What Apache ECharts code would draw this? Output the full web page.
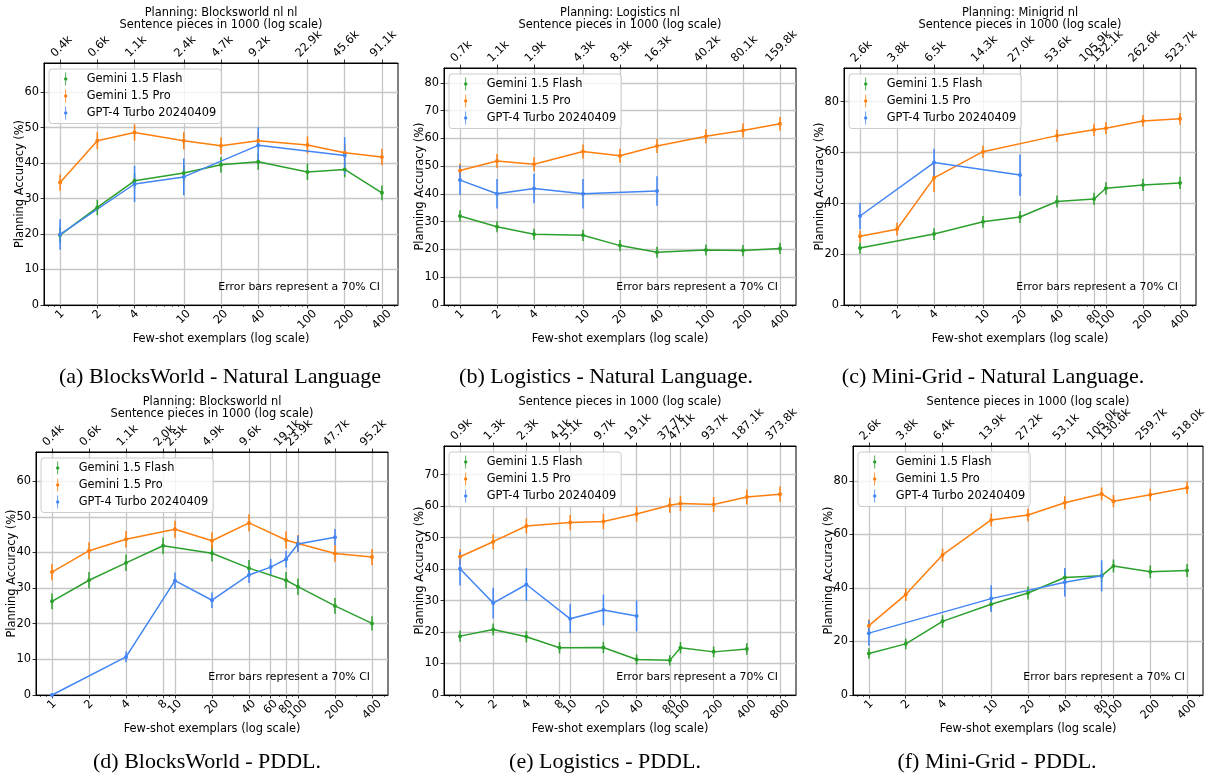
<!DOCTYPE html>
<html><head><meta charset="utf-8">
<script src="https://cdn.jsdelivr.net/npm/echarts@6.0.0/dist/echarts.min.js"></script>
<style>html,body{margin:0;padding:0;background:#fff}#c{width:1208px;height:778px}</style>
</head><body><div id="c"></div>
<script>
// ---------------- data ----------------
const seriesNames = ['Gemini 1.5 Flash', 'Gemini 1.5 Pro', 'GPT-4 Turbo 20240409'];

// (a) BlocksWorld - NL
const shotsA = [1, 2, 4, 10, 20, 40, 100, 200, 400];
const tokShotsA = [1, 2, 4, 10, 20, 40, 100, 200, 400];
const tokensA = ['0.4k', '0.6k', '1.1k', '2.4k', '4.7k', '9.2k', '22.9k', '45.6k', '91.1k'];
const flashA = [19.7, 27.5, 35.0, 37.2, 39.5, 40.4, 37.5, 38.2, 31.6];
const flashErrA = [2.2, 2.2, 2.2, 2.2, 2.2, 2.3, 2.3, 2.2, 2.1];
const proA = [34.5, 46.3, 48.6, 46.3, 44.9, 46.3, 45.1, 42.9, 41.7];
const proErrA = [2.3, 2.4, 2.3, 2.4, 2.4, 2.3, 2.4, 2.4, 2.3];
const gptA = [19.9, null, 34.1, 36.1, null, 45.0, null, 42.1, null];
const gptErrA = [4.3, null, 5.1, 5.2, null, 5.1, null, 5.2, null];

// (b) Logistics - NL
const shotsB = [1, 2, 4, 10, 20, 40, 100, 200, 400];
const tokShotsB = [1, 2, 4, 10, 20, 40, 100, 200, 400];
const tokensB = ['0.7k', '1.1k', '1.9k', '4.3k', '8.3k', '16.3k', '40.2k', '80.1k', '159.8k'];
const flashB = [32.1, 28.2, 25.5, 25.1, 21.4, 19.0, 19.8, 19.6, 20.4];
const flashErrB = [2.0, 2.0, 2.0, 2.0, 2.0, 2.0, 2.0, 2.0, 2.0];
const proB = [48.5, 51.9, 50.7, 55.3, 53.8, 57.3, 60.8, 62.9, 65.3];
const proErrB = [2.5, 2.5, 2.5, 2.5, 2.5, 2.5, 2.5, 2.5, 2.4];
const gptB = [45.0, 40.1, 42.0, 40.1, null, 41.1, null, null, null];
const gptErrB = [5.4, 5.3, 5.3, 5.3, null, 5.3, null, null, null];

// (c) Mini-Grid - NL
const shotsC = [1, 2, 4, 10, 20, 40, 80, 100, 200, 400];
const tokShotsC = [1, 2, 4, 10, 20, 40, 80, 100, 200, 400];
const tokensC = ['2.6k', '3.8k', '6.5k', '14.3k', '27.0k', '53.6k', '105.9k', '132.1k', '262.6k', '523.7k'];
const flashC = [22.4, null, 27.9, 32.7, 34.6, 40.7, 41.7, 45.9, 47.2, 48.0];
const flashErrC = [2.2, null, 2.3, 2.3, 2.4, 2.4, 2.4, 2.4, 2.4, 2.4];
const proC = [27.0, 29.8, 50.0, 60.3, null, 66.6, 68.9, 69.5, 72.4, 73.2];
const proErrC = [2.3, 2.5, 5.6, 2.4, null, 2.4, 2.4, 2.4, 2.3, 2.3];
const gptC = [35.0, null, 56.0, null, 51.1, null, null, null, null, null];
const gptErrC = [5.2, null, 5.4, null, 8.1, null, null, null, null, null];

// (d) BlocksWorld - PDDL
const shotsD = [1, 2, 4, 8, 10, 20, 40, 60, 80, 100, 200, 400];
const tokShotsD = [1, 2, 4, 8, 10, 20, 40, 80, 100, 200, 400];
const tokensD = ['0.4k', '0.6k', '1.1k', '2.0k', '2.5k', '4.9k', '9.6k', '19.1k', '23.9k', '47.7k', '95.2k'];
const flashD = [26.3, 32.2, 37.1, 41.9, null, 39.8, 35.6, null, 32.2, 30.4, 25.0, 20.1];
const flashErrD = [2.2, 2.3, 2.3, 2.3, null, 2.3, 2.3, null, 2.3, 2.3, 2.2, 2.0];
const proD = [34.5, 40.5, 43.7, null, 46.5, 43.3, 48.3, null, 43.5, 42.5, 39.7, 38.7];
const proErrD = [2.3, 2.4, 2.3, null, 2.4, 2.4, 2.4, null, 2.4, 2.4, 2.3, 2.3];
const gptD = [0, null, 10.7, null, 32.1, 26.6, 33.7, 35.9, 38.1, 42.4, 44.3, null];
const gptErrD = [0, null, 1.5, null, 2.3, 2.2, 2.3, 2.3, 2.3, 2.3, 2.3, null];

// (e) Logistics - PDDL
const shotsE = [1, 2, 4, 8, 10, 20, 40, 80, 100, 200, 400, 800];
const tokShotsE = [1, 2, 4, 8, 10, 20, 40, 80, 100, 200, 400, 800];
const tokensE = ['0.9k', '1.3k', '2.3k', '4.1k', '5.1k', '9.7k', '19.1k', '37.7k', '47.1k', '93.7k', '187.1k', '373.8k'];
const flashE = [18.7, 20.8, 18.5, 15.0, null, 15.1, 11.3, 11.0, 15.0, 13.7, 14.6, null];
const flashErrE = [1.8, 1.9, 1.8, 1.8, null, 1.8, 1.6, 1.6, 1.8, 1.7, 1.8, null];
const proE = [43.9, 48.7, 53.7, null, 54.8, 55.1, 57.5, 60.3, 60.8, 60.5, 62.9, 63.8];
const proErrE = [2.4, 2.4, 2.4, null, 2.4, 2.4, 2.4, 2.4, 2.4, 2.4, 2.4, 2.4];
const gptE = [40.1, 29.2, 35.1, null, 24.2, 27.0, 25.1, null, null, null, null, null];
const gptErrE = [5.3, 4.9, 5.2, null, 4.6, 4.9, 4.9, null, null, null, null, null];

// (f) Mini-Grid - PDDL
const shotsF = [1, 2, 4, 10, 20, 40, 80, 100, 200, 400];
const tokShotsF = [1, 2, 4, 10, 20, 40, 80, 100, 200, 400];
const tokensF = ['2.6k', '3.8k', '6.4k', '13.9k', '27.2k', '53.1k', '105.0k', '130.6k', '259.7k', '518.0k'];
const flashF = [15.5, 19.1, 27.5, 33.9, 38.1, 43.9, 44.5, 48.2, 46.0, 46.5];
const flashErrF = [2.0, 2.0, 2.3, 2.4, 2.4, 2.4, 2.4, 2.4, 2.4, 2.4];
const proF = [25.9, 37.5, 52.3, 65.4, 67.2, 71.8, 75.1, 72.4, 74.8, 77.4];
const proErrF = [2.3, 2.4, 2.4, 2.4, 2.4, 2.4, 2.4, 2.3, 2.3, 2.3];
const gptF = [23.1, null, null, 36.0, null, 42.1, 44.5, null, null, null];
const gptErrF = [4.7, null, null, 5.0, null, 5.3, 5.8, null, null, null];

const planTitles = ['Planning: Blocksworld nl nl', 'Planning: Logistics nl', 'Planning: Minigrid nl', 'Planning: Blocksworld nl', '', ''];
const subTitle = 'Sentence pieces in 1000 (log scale)';
const captions = ['(a) BlocksWorld - Natural Language', '(b) Logistics - Natural Language.', '(c) Mini-Grid - Natural Language.',
                  '(d) BlocksWorld - PDDL.', '(e) Logistics - PDDL.', '(f) Mini-Grid - PDDL.'];
const ciNote = 'Error bars represent a 70% CI';
const yName = 'Planning Accuracy (%)';
const xName = 'Few-shot exemplars (log scale)';

const panelData = [
  { shots: shotsA, tokShots: tokShotsA, tokens: tokensA, vals: [flashA, proA, gptA], errs: [flashErrA, proErrA, gptErrA] },
  { shots: shotsB, tokShots: tokShotsB, tokens: tokensB, vals: [flashB, proB, gptB], errs: [flashErrB, proErrB, gptErrB] },
  { shots: shotsC, tokShots: tokShotsC, tokens: tokensC, vals: [flashC, proC, gptC], errs: [flashErrC, proErrC, gptErrC] },
  { shots: shotsD, tokShots: tokShotsD, tokens: tokensD, vals: [flashD, proD, gptD], errs: [flashErrD, proErrD, gptErrD] },
  { shots: shotsE, tokShots: tokShotsE, tokens: tokensE, vals: [flashE, proE, gptE], errs: [flashErrE, proErrE, gptErrE] },
  { shots: shotsF, tokShots: tokShotsF, tokens: tokensF, vals: [flashF, proF, gptF], errs: [flashErrF, proErrF, gptErrF] }
];

// ---------------- layout / style ----------------
const panelLayout = [
  { left: 44,  top: 63,  width: 354, height: 242, yMax: 68.2, yStep: 10, titleY: 13.3, subY: 25,    capX: 220, capY: 377 },
  { left: 444, top: 68,  width: 352, height: 237, yMax: 85.4, yStep: 10, titleY: 13.3, subY: 25,    capX: 606, capY: 377 },
  { left: 844, top: 68,  width: 352, height: 237, yMax: 93.2, yStep: 20, titleY: 13.3, subY: 25,    capX: 993, capY: 377 },
  { left: 36,  top: 452, width: 352, height: 243, yMax: 68.2, yStep: 10, titleY: 402.3, subY: 414, capX: 207, capY: 762 },
  { left: 444, top: 446, width: 352, height: 249, yMax: 79.1, yStep: 10, titleY: 0,    subY: 402.3, capX: 605, capY: 762 },
  { left: 853, top: 446, width: 350, height: 249, yMax: 93.0, yStep: 20, titleY: 0,    subY: 402.3, capX: 997, capY: 762 }
];
const colors = ['#2ca02c', '#ff7f0e', '#4285f4'];
const FONT = '"DejaVu Sans", sans-serif';
const FS = 11.4;
const GRIDC = '#c6c6c6';
const ICON = 'path://M1.6,0 L2.4,0 L2.4,13 L1.6,13 Z M0.3,6.5 A1.7,1.7 0 1 1 3.7,6.5 A1.7,1.7 0 1 1 0.3,6.5 Z';

const ctx = document.createElement('canvas').getContext('2d');
ctx.font = FS + 'px "DejaVu Sans"';

function richFor(labels, prefix) {
  const rich = {};
  labels.forEach((s, k) => {
    const p = 0.5 * ctx.measureText(s).width;
    rich[prefix + k] = { fontSize: FS, fontFamily: FONT, color: '#000', padding: [p, p, 0, 0] };
  });
  return rich;
}
function fmtFor(vals, labels, prefix) {
  return function (v) {
    const k = vals.findIndex(t => Math.abs(t - v) < 1e-6);
    return k < 0 ? '' : '{' + prefix + k + '|' + labels[k] + '}';
  };
}

const grid = [], xAxis = [], yAxis = [], series = [], legend = [], graphic = [];

panelData.forEach((P, i) => {
  const L = panelLayout[i];
  grid.push({ left: L.left, top: L.top, width: L.width, height: L.height, show: true,
    borderColor: '#000', borderWidth: 1, backgroundColor: 'transparent', containLabel: false, outerBoundsMode: 'none' });

  const lastLog = Math.log10(P.shots[P.shots.length - 1]);
  const pad = 0.05 * lastLog;
  const xmin = -pad, xmax = lastLog + pad;
  const majors = P.shots.map(s => Math.log10(s));
  const topVals = P.tokShots.map(s => Math.log10(s));
  const minors = [];
  for (let e = -1; e <= 3; e++) for (let m = 2; m <= 9; m++) {
    const v = m * Math.pow(10, e), lv = Math.log10(v);
    if (lv >= xmin && lv <= xmax && P.shots.indexOf(Math.round(v * 1000) / 1000) < 0) minors.push(lv);
  }
  const bottomLabels = P.shots.map(String);

  xAxis.push({ type: 'value', gridIndex: i, position: 'bottom', min: xmin, max: xmax,
    axisLine: { show: true, onZero: false, lineStyle: { color: '#000', width: 1 } },
    axisTick: { show: true, length: 3.5, customValues: majors, lineStyle: { color: '#000', width: 0.8 } },
    axisLabel: { show: true, rotate: 45, align: 'center', verticalAlign: 'middle', margin: 7,
      customValues: majors, formatter: fmtFor(majors, bottomLabels, 'b'), rich: richFor(bottomLabels, 'b'),
      fontSize: FS, fontFamily: FONT, color: '#000' },
    splitLine: { show: true, lineStyle: { color: GRIDC, width: 1.3 } },
    name: xName, nameLocation: 'middle', nameGap: 28.5, nameMoveOverlap: false,
    nameTextStyle: { fontSize: FS, fontFamily: FONT, color: '#000' } });

  xAxis.push({ type: 'value', gridIndex: i, position: 'top', min: xmin, max: xmax,
    axisLine: { show: true, onZero: false, lineStyle: { color: '#000', width: 1 } },
    axisTick: { show: true, length: 3.5, customValues: topVals, lineStyle: { color: '#000', width: 0.8 } },
    axisLabel: { show: false }, splitLine: { show: false } });

  xAxis.push({ type: 'value', gridIndex: i, position: 'bottom', min: xmin, max: xmax,
    axisLine: { show: false },
    axisTick: { show: true, length: 2, customValues: minors, lineStyle: { color: '#000', width: 0.6 } },
    axisLabel: { show: false }, splitLine: { show: false } });

  const yTicks = [];
  for (let v = 0; v <= L.yMax + 1e-9; v += L.yStep) yTicks.push(v);
  yAxis.push({ type: 'value', gridIndex: i, min: 0, max: L.yMax,
    axisLine: { show: true, onZero: false, lineStyle: { color: '#000', width: 1 } },
    axisTick: { show: true, length: 3.5, customValues: yTicks, lineStyle: { color: '#000', width: 0.8 } },
    axisLabel: { customValues: yTicks, fontSize: FS, fontFamily: FONT, color: '#000', margin: 5 },
    splitLine: { show: true, lineStyle: { color: GRIDC, width: 1.3 } },
    name: yName, nameLocation: 'middle', nameGap: 18.5, nameRotate: 90, nameMoveOverlap: false,
    nameTextStyle: { fontSize: FS, fontFamily: FONT, color: '#000' } });

  P.vals.forEach((vals, s) => {
    const pts = [], errPts = [];
    P.shots.forEach((sh, k) => {
      if (vals[k] == null) return;
      pts.push([Math.log10(sh), vals[k]]);
      errPts.push([Math.log10(sh), vals[k], P.errs[s][k]]);
    });
    series.push({ type: 'line', name: seriesNames[s], xAxisIndex: 3 * i, yAxisIndex: i, data: pts,
      symbol: 'circle', symbolSize: 4, showSymbol: true, color: colors[s],
      lineStyle: { width: 1.5, color: colors[s] }, itemStyle: { color: colors[s] }, emphasis: { disabled: true } });
    const col = colors[s];
    series.push({ type: 'custom', xAxisIndex: 3 * i, yAxisIndex: i, data: errPts, encode: { x: 0, y: 1 }, silent: true,
      renderItem: function (params, api) {
        const x = api.value(0), y = api.value(1), e = api.value(2);
        const p1 = api.coord([x, y - e]), p2 = api.coord([x, y + e]);
        return { type: 'line', shape: { x1: p1[0], y1: p1[1], x2: p2[0], y2: p2[1] }, style: { stroke: col, lineWidth: 1.5 } };
      } });
  });

  legend.push({ left: L.left + 5, top: L.top + 6, orient: 'vertical', selectedMode: false,
    data: seriesNames.map(n => ({ name: n, icon: ICON })),
    itemWidth: 32, itemHeight: 13, itemGap: 4, padding: [3.5, 5, 4, 15],
    backgroundColor: 'rgba(255,255,255,0.8)', borderColor: '#cccccc', borderWidth: 1, borderRadius: 3,
    textStyle: { fontSize: FS, fontFamily: FONT, color: '#000' } });

  const cx = L.left + L.width / 2;
  if (planTitles[i]) graphic.push({ type: 'text', x: cx, y: L.titleY,
    style: { text: planTitles[i], fontSize: FS, fontFamily: FONT, fill: '#000', align: 'center', verticalAlign: 'middle' } });
  graphic.push({ type: 'text', x: cx, y: L.subY,
    style: { text: subTitle, fontSize: FS, fontFamily: FONT, fill: '#000', align: 'center', verticalAlign: 'middle' } });
  graphic.push({ type: 'text', x: L.left + L.width - 18, y: L.top + L.height - 17.5, z: 10,
    style: { text: ciNote, fontSize: 10.9, fontFamily: FONT, fill: '#000', align: 'right', verticalAlign: 'middle' } });
  graphic.push({ type: 'text', x: L.capX, y: L.capY,
    style: { text: captions[i], fontSize: 22, fontFamily: '"Liberation Serif", serif', fill: '#000', align: 'center', verticalAlign: 'middle' } });
});

const chart = echarts.init(document.getElementById('c'), null, { renderer: 'canvas' });
chart.setOption({ animation: false, backgroundColor: '#fff', grid, xAxis, yAxis, series, legend });

// top-axis tick labels (token counts), placed at the top axis' own tick positions
panelData.forEach((P, i) => {
  const L = panelLayout[i];
  P.tokShots.forEach((s, k) => {
    const px = chart.convertToPixel({ xAxisIndex: 3 * i + 1 }, Math.log10(s));
    const w = ctx.measureText(P.tokens[k]).width;
    graphic.push({ type: 'text', x: px + 1.5, y: L.top - 4.7 - 0.354 * (w + 8.3), rotation: Math.PI / 4,
      style: { text: P.tokens[k], fontSize: FS, fontFamily: FONT, fill: '#000', align: 'center', verticalAlign: 'middle' } });
  });
});
chart.setOption({ graphic });
</script></body></html>
